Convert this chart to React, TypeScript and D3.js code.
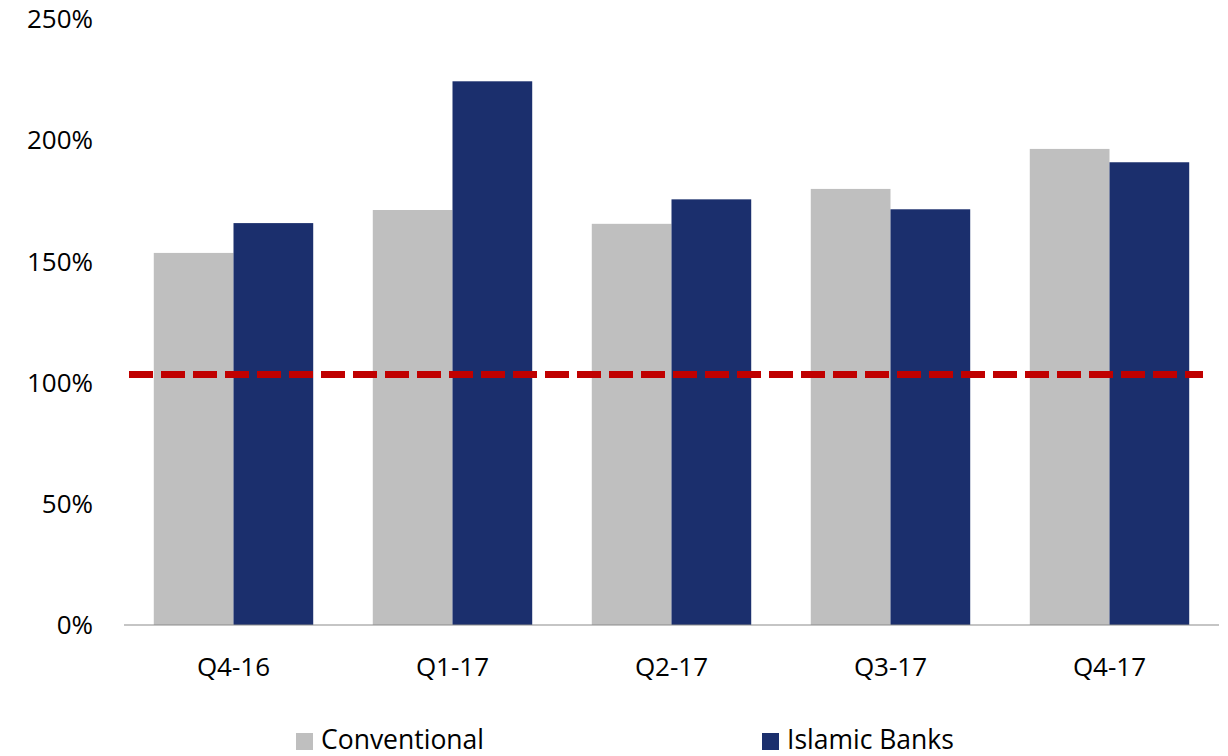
import React, { useEffect, useRef } from 'react';
import * as d3 from 'd3';

const categories = ['Q4-16', 'Q1-17', 'Q2-17', 'Q3-17', 'Q4-17'];
const seriesNames = ['Conventional', 'Islamic Banks'];
const conventional = [153.5, 171.2, 165.5, 179.9, 196.4];
const islamic = [165.8, 224.3, 175.6, 171.5, 190.9];
const thresholdValue = 103.3;
const yTicks = [0, 50, 100, 150, 200, 250];
const seriesColors = ['#bfbfbf', '#1b2f6d'];

const width = 1228;
const height = 756;
const FONT = '"Open Sans", sans-serif';

const BarChart: React.FC = () => {
    const svgRef = useRef<SVGSVGElement>(null);

    useEffect(() => {
        if (!svgRef.current) return;
        const svg = d3.select(svgRef.current);
        svg.selectAll('*').remove();

        const margin = { left: 124, right: 9, zeroY: 625, topY: 19 };

        const x0 = d3.scaleBand()
            .domain(categories)
            .range([margin.left, width - margin.right])
            .paddingInner(0.272)
            .paddingOuter(0.136);

        const x1 = d3.scaleBand()
            .domain(seriesNames)
            .range([0, x0.bandwidth()]);

        const y = d3.scaleLinear()
            .domain([0, 250])
            .range([margin.zeroY, margin.topY]);

        const color = d3.scaleOrdinal<string>().domain(seriesNames).range(seriesColors);

        const rows = categories.map((c, i) => ({
            cat: c,
            values: [
                { key: seriesNames[0], value: conventional[i] },
                { key: seriesNames[1], value: islamic[i] },
            ],
        }));

        // Bars
        svg.append('g')
            .selectAll('g')
            .data(rows)
            .join('g')
            .attr('transform', d => `translate(${x0(d.cat)},0)`)
            .selectAll('rect')
            .data(d => d.values)
            .join('rect')
            .attr('x', d => x1(d.key)!)
            .attr('y', d => y(d.value))
            .attr('width', x1.bandwidth())
            .attr('height', d => y(0) - y(d.value))
            .attr('fill', d => color(d.key));

        // X axis line
        svg.append('line')
            .attr('x1', margin.left)
            .attr('x2', width - margin.right)
            .attr('y1', y(0))
            .attr('y2', y(0))
            .attr('stroke', '#8c8c8c')
            .attr('stroke-width', 1.2);

        // Category labels
        svg.append('g')
            .selectAll('text')
            .data(categories)
            .join('text')
            .attr('x', d => x0(d)! + x0.bandwidth() / 2)
            .attr('y', 676)
            .attr('text-anchor', 'middle')
            .attr('font-family', FONT)
            .attr('font-size', 26)
            .attr('fill', '#000')
            .text(d => d);

        // Y tick labels
        svg.append('g')
            .selectAll('text')
            .data(yTicks)
            .join('text')
            .attr('x', 93)
            .attr('y', d => y(d))
            .attr('dy', '0.35em')
            .attr('text-anchor', 'end')
            .attr('font-family', FONT)
            .attr('font-size', 26)
            .attr('fill', '#000')
            .text(d => `${d}%`);

        // Threshold dashed line
        svg.append('line')
            .attr('x1', 129)
            .attr('x2', 1203)
            .attr('y1', y(thresholdValue))
            .attr('y2', y(thresholdValue))
            .attr('stroke', '#c00000')
            .attr('stroke-width', 7)
            .attr('stroke-dasharray', '24 8');

        // Legend
        const legendX = [296, 762];
        const legend = svg.append('g')
            .selectAll('g')
            .data(seriesNames)
            .join('g')
            .attr('transform', (d, i) => `translate(${legendX[i]},733)`);

        legend.append('rect')
            .attr('width', 17)
            .attr('height', 17)
            .attr('fill', d => color(d));

        legend.append('text')
            .attr('x', 25)
            .attr('y', 16)
            .attr('font-family', FONT)
            .attr('font-size', 26.5)
            .attr('fill', '#000')
            .text(d => d);
    }, []);

    return <svg ref={svgRef} width={width} height={height}
        style={{ position: 'absolute', left: 0, top: 0, background: '#fff' }} />;
};

export default function App() {
    return <BarChart />;
}
